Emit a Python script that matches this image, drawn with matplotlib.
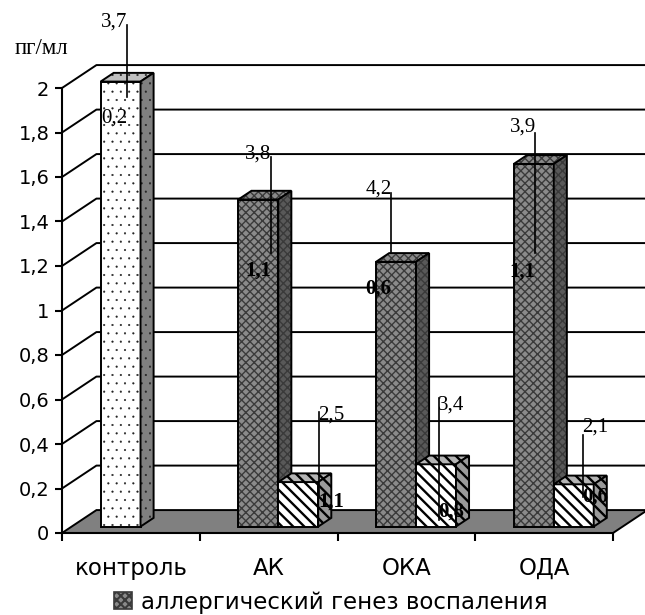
import numpy as np
import matplotlib.pyplot as plt
from matplotlib.patches import Polygon, Patch

# groups along the x axis
categories = ['контроль', 'АК', 'ОКА', 'ОДА']
# first column of each group (the control column is drawn with dots)
allergic = [2.0, 1.47, 1.19, 1.63]
# second column of each group
non_allergic = [0.0, 0.20, 0.28, 0.19]
# numbers written next to the columns
upper_first = ['3,7', '3,8', '4,2', '3,9']
lower_first = ['0,2', '1,1', '0,6', '1,1']
upper_second = ['', '2,5', '3,4', '2,1']
lower_second = ['', '1,1', '0,8', '0,6']
yticks = np.arange(0, 2.01, 0.2)

plt.rcParams['hatch.linewidth'] = 1.5
SERIF = ['Liberation Serif', 'DejaVu Serif']

# oblique "3d" look: depth offset in data units and the depth span of the columns
DX, DY = 0.25, 0.103
D0, D1 = 0.28, 0.66
BAR_W = 0.29


def pt(x, y, d):
    return (x + d * DX, y + d * DY)


def face(ax, verts, fc, hatch, hc, z, hlw=1.5):
    p = Polygon(verts, closed=True, facecolor=fc, edgecolor=hc, hatch=hatch,
                lw=0, zorder=z, clip_on=False)
    if hasattr(p, 'set_hatch_linewidth'):
        p.set_hatch_linewidth(hlw)
    ax.add_patch(p)
    ax.add_patch(Polygon(verts, closed=True, fill=False, edgecolor='black', lw=1.4,
                         zorder=z, clip_on=False, joinstyle='miter'))


def column(ax, x0, value, style, z):
    x1 = x0 + BAR_W
    front = [pt(x0, 0, D0), pt(x1, 0, D0), pt(x1, value, D0), pt(x0, value, D0)]
    top = [pt(x0, value, D0), pt(x1, value, D0), pt(x1, value, D1), pt(x0, value, D1)]
    side = [pt(x1, 0, D0), pt(x1, 0, D1), pt(x1, value, D1), pt(x1, value, D0)]
    (ffc, tfc, sfc), hatch, hc, hlw = style
    face(ax, front, ffc, hatch, hc, z, hlw)
    face(ax, top, tfc, hatch, hc, z, hlw)
    face(ax, side, sfc, hatch, hc, z, hlw)


dotted = (('white', '#c0c0c0', '#808080'), '..', '#222222', 0.3)
checker = (('#8a8a8a', '#8a8a8a', '#595959'), 'xxxx', '#3a3a3a', 1.0)
striped = (('white', '#b4b4b4', '#9a9a9a'), '\\\\\\', 'black', 1.7)

fig = plt.figure(figsize=(6.45, 6.15), dpi=100)
ax = fig.add_axes([62 / 645, 82 / 615, 551 / 645, 445 / 615])
ax.set_xlim(0, 4)
ax.set_ylim(0, 2)
ax.patch.set_visible(False)

# grid lines: along the left wall, then across the back wall
for v in yticks[1:]:
    ax.plot([0, DX, 4 + DX], [v, v + DY, v + DY], color='black', lw=1.4,
            zorder=1, clip_on=False)

# floor
face(ax, [pt(0, 0, 0), pt(4, 0, 0), pt(4, 0, 1), pt(0, 0, 1)], '#808080', None, 'black', 2)

z = 3
for i in range(len(categories)):
    left = i + 0.5 - BAR_W
    column(ax, left, allergic[i], dotted if i == 0 else checker, z)
    z += 1
    if non_allergic[i] > 0:
        column(ax, i + 0.5, non_allergic[i], striped, z)
        z += 1

# leader lines with their numbers: x, line top, line bottom, upper text y, lower text y
notes_first = [(0.472, 2.283, 1.960, 2.297, 1.865),
               (1.517, 1.690, 1.258, 1.703, 1.178),
               (2.388, 1.528, 1.263, 1.546, 1.097),
               (3.434, 1.800, 1.258, 1.825, 1.173)]
notes_second = [None,
                (1.866, 0.544, 0.162, 0.530, 0.139),
                (2.737, 0.607, 0.058, 0.575, 0.094),
                (3.782, 0.440, 0.162, 0.476, 0.162)]

for i in range(len(categories)):
    for note, up, low, ha in ((notes_first[i], upper_first[i], lower_first[i], 'right'),
                              (notes_second[i], upper_second[i], lower_second[i], 'left')):
        if note is None:
            continue
        x, ytop, ybot, yup, ylow = note
        ax.plot([x, x], [ytop, ybot], color='black', lw=1.2, zorder=50, clip_on=False)
        dx = 0.005 if ha == 'right' else -0.005
        ax.text(x + dx, yup, up, ha=ha, va='center', fontsize=15, family=SERIF,
                zorder=51, clip_on=False)
        ax.text(x + dx, ylow, low, ha=ha, va='center', fontsize=15, family=SERIF,
                fontweight='normal' if i == 0 else 'bold', zorder=51, clip_on=False)

# front axes
for s in ('top', 'right'):
    ax.spines[s].set_visible(False)
for s in ('left', 'bottom'):
    ax.spines[s].set_linewidth(1.5)
    ax.spines[s].set_zorder(60)

ax.set_yticks(yticks)
ax.set_yticklabels([f'{round(v, 1):g}'.replace('.', ',') for v in yticks])
ax.tick_params(axis='y', direction='out', length=5, width=1.5, pad=4, labelsize=14)

ax.set_xticks(range(len(categories) + 1))
ax.set_xticklabels([])
ax.set_xticks(np.arange(len(categories)) + 0.5, minor=True)
ax.set_xticklabels(categories, minor=True, fontsize=16.5)
ax.tick_params(axis='x', which='major', direction='out', length=6, width=1.5)
ax.tick_params(axis='x', which='minor', length=0, pad=17)

fig.text(41.5 / 645, 1 - 48 / 615, 'пг/мл', ha='center', va='center', fontsize=16.5,
         family=SERIF)

handle = Patch(facecolor=checker[0][0], edgecolor=checker[2], hatch=checker[1], lw=1.2)
leg = fig.legend([handle], ['аллергический генез воспаления'], loc='center',
                 bbox_to_anchor=(0.513, 0.021), frameon=False, fontsize=16.5,
                 handlelength=0.75, handleheight=0.75, handletextpad=0.4)

fig.savefig('out.png', dpi=100)
